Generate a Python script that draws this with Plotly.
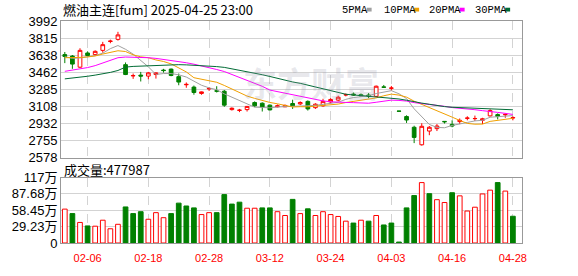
import plotly.graph_objects as go

# ---------------- data ----------------
title_text = "燃油主连[fum] 2025-04-25 23:00"
vol_title = "成交量"

dates = ["01-24", "01-27", "02-05", "02-06", "02-07", "02-10", "02-11", "02-12", "02-13", "02-14",
         "02-17", "02-18", "02-19", "02-20", "02-21", "02-24", "02-25", "02-26", "02-27", "02-28",
         "03-03", "03-04", "03-05", "03-06", "03-07", "03-10", "03-11", "03-12", "03-13", "03-14",
         "03-17", "03-18", "03-19", "03-20", "03-21", "03-24", "03-25", "03-26", "03-27", "03-28",
         "03-31", "04-01", "04-02", "04-03", "04-07", "04-08", "04-09", "04-10", "04-11", "04-14",
         "04-15", "04-16", "04-17", "04-18", "04-21", "04-22", "04-23", "04-24", "04-25", "04-28"]

x_tick_labels = ["02-06", "02-18", "02-28", "03-12", "03-24", "04-03", "04-16", "04-28"]

open_ = [3644, 3629, 3514, 3661, 3644, 3688, 3780, 3802, 3540, 3424,
         3432, 3422, 3438, 3484, 3494, 3416, 3332, 3308, 3242, 3289,
         3270, 3265, 3075, 3067, 3075, 3148, 3141, 3121, 3104, 3104,
         3138, 3134, 3160, 3095, 3114, 3154, 3173, 3227, 3236, 3229,
         3226, 3212, 3310, 3296, 3060, 3003, 2892, 2711, 2853, 2878,
         2953, 2922, 2951, 2985, 2981, 2964, 3010, 3023, 3021, 2988]
high = [3671, 3640, 3710, 3678, 3688, 3776, 3799, 3880, 3563, 3448,
        3465, 3465, 3460, 3497, 3500, 3448, 3356, 3324, 3262, 3308,
        3317, 3278, 3098, 3082, 3111, 3160, 3150, 3128, 3128, 3128,
        3177, 3160, 3170, 3141, 3187, 3193, 3219, 3242, 3252, 3242,
        3246, 3324, 3330, 3320, 3060, 3016, 2908, 2934, 2905, 2925,
        2957, 2964, 2983, 3006, 3013, 2990, 3079, 3036, 3036, 3006]
low = [3556, 3497, 3505, 3625, 3629, 3664, 3762, 3789, 3432, 3393,
       3366, 3389, 3396, 3458, 3420, 3327, 3301, 3229, 3229, 3268,
       3252, 3104, 3065, 3049, 3055, 3101, 3055, 3065, 3098, 3101,
       3082, 3121, 3065, 3082, 3104, 3138, 3160, 3212, 3219, 3206,
       3193, 3206, 3301, 3271, 3058, 2937, 2728, 2702, 2810, 2853,
       2931, 2892, 2925, 2964, 2957, 2925, 3003, 2974, 2990, 2964]
close = [3625, 3546, 3688, 3635, 3678, 3747, 3784, 3848, 3438, 3427,
         3422, 3455, 3455, 3479, 3428, 3360, 3336, 3252, 3258, 3293,
         3266, 3121, 3089, 3069, 3108, 3114, 3104, 3072, 3114, 3118,
         3114, 3148, 3082, 3131, 3160, 3180, 3203, 3229, 3226, 3216,
         3216, 3317, 3306, 3298, 3058, 2967, 2787, 2902, 2892, 2905,
         2949, 2905, 2964, 2987, 2983, 2980, 3065, 3003, 3025, 2992]

ma_names = ["5PMA", "10PMA", "20PMA", "30PMA"]
ma5 = [3622, 3605, 3610, 3625, 3634, 3659, 3706, 3738, 3699, 3649,
       3584, 3518, 3439, 3448, 3448, 3435, 3412, 3371, 3327, 3300,
       3281, 3238, 3205, 3168, 3131, 3100, 3097, 3093, 3102, 3104,
       3104, 3113, 3115, 3119, 3127, 3140, 3151, 3181, 3200, 3211,
       3218, 3241, 3256, 3271, 3239, 3189, 3083, 3002, 2921, 2891,
       2887, 2911, 2923, 2942, 2958, 2964, 2996, 3004, 3011, 3013]
ma10 = [3612, 3610, 3615, 3620, 3630, 3650, 3668, 3684, 3676, 3642,
        3621, 3612, 3589, 3573, 3548, 3510, 3465, 3405, 3387, 3374,
        3358, 3325, 3288, 3247, 3215, 3191, 3167, 3149, 3135, 3118,
        3102, 3105, 3104, 3111, 3116, 3122, 3132, 3148, 3159, 3169,
        3179, 3196, 3218, 3235, 3225, 3204, 3162, 3129, 3096, 3065,
        3038, 2997, 2963, 2932, 2924, 2925, 2953, 2963, 2977, 2985]
ma20 = [3471, 3482, 3495, 3510, 3530, 3560, 3590, 3612, 3619, 3619,
        3617, 3612, 3605, 3595, 3582, 3570, 3560, 3545, 3528, 3508,
        3490, 3469, 3439, 3410, 3382, 3350, 3316, 3277, 3261, 3246,
        3230, 3215, 3196, 3179, 3165, 3156, 3150, 3149, 3147, 3143,
        3141, 3151, 3161, 3173, 3170, 3163, 3147, 3139, 3127, 3117,
        3109, 3096, 3091, 3083, 3074, 3064, 3058, 3046, 3036, 3025]
ma30 = [3393, 3400, 3408, 3420, 3432, 3445, 3460, 3480, 3515, 3522,
        3526, 3530, 3533, 3536, 3540, 3540, 3538, 3535, 3530, 3526,
        3520, 3512, 3498, 3482, 3467, 3450, 3436, 3418, 3398, 3378,
        3361, 3347, 3327, 3310, 3293, 3274, 3255, 3234, 3227, 3220,
        3213, 3209, 3204, 3198, 3185, 3172, 3154, 3142, 3130, 3117,
        3106, 3099, 3095, 3092, 3088, 3084, 3082, 3080, 3077, 3073]

volume = [605000, 525000, 367000, 305000, 300000, 407000, 254000, 334000, 644000, 525000,
          559000, 424000, 542000, 452000, 525000, 712000, 661000, 627000, 508000, 542000,
          542000, 864000, 695000, 729000, 621000, 621000, 627000, 627000, 559000, 491000,
          779000, 525000, 610000, 491000, 559000, 508000, 474000, 390000, 356000, 407000,
          390000, 491000, 322000, 356000, 17000, 627000, 847000, 1079000, 881000, 774000,
          723000, 898000, 842000, 571000, 639000, 876000, 944000, 1079000, 927000, 477987]
# 1 = up day (vs previous settlement), 0 = down day
vol_up = [1, 0, 1, 0, 1, 1, 1, 1, 0, 0,
          0, 1, 1, 1, 0, 0, 0, 0, 1, 1,
          0, 0, 0, 0, 1, 1, 0, 0, 1, 1,
          0, 1, 0, 1, 1, 1, 1, 1, 0, 1,
          0, 1, 0, 0, 0, 0, 0, 1, 0, 1,
          1, 0, 1, 1, 1, 1, 1, 0, 1, 0]

price_ticks = [3992, 3815, 3638, 3462, 3285, 3108, 2932, 2755, 2578]
vol_tick_vals = [1169000, 876800, 584500, 292300, 0]
vol_tick_text = ["117万", "87.68万", "58.45万", "29.23万", "0"]

# ---------------- styling ----------------
W, H = 578, 276
L, R, T, B = 56, 522, 21, 255
RED = "#ff0000"
GREEN = "#008000"
ma_colors = ["#a0a0a0", "#f0a000", "#ff00ff", "#006b35"]
FRAME = "#999999"
GRID = "#d3d3d3"


def px(xp):
    return (xp - L) / (R - L)


def py(yp):
    return (B - yp) / (B - T)


fig = go.Figure()

for name, vals, col in zip(ma_names, [ma5, ma10, ma20, ma30], ma_colors):
    fig.add_trace(go.Scatter(x=dates, y=vals, mode="lines", name=name,
                             line=dict(color=col, width=1), xaxis="x", yaxis="y",
                             showlegend=False, hoverinfo="skip"))

fig.add_trace(go.Candlestick(
    x=dates, open=open_, high=high, low=low, close=close,
    increasing=dict(line=dict(color=RED, width=1), fillcolor="white"),
    decreasing=dict(line=dict(color=GREEN, width=1), fillcolor=GREEN),
    whiskerwidth=0, xaxis="x", yaxis="y", showlegend=False))

vol_fill = ["white" if u else GREEN for u in vol_up]
vol_line = [RED if u else GREEN for u in vol_up]
fig.add_trace(go.Bar(x=dates, y=volume, xaxis="x2", yaxis="y2", width=0.62,
                     marker=dict(color=vol_fill, line=dict(color=vol_line, width=1)),
                     showlegend=False))

tick_font = dict(family="Liberation Sans, Noto Sans CJK SC", size=13, color="#000000")
xrange = [-0.5, 60.2]

fig.update_layout(
    width=W, height=H, autosize=False,
    margin=dict(l=L, r=W - R, t=T, b=H - B, pad=0),
    paper_bgcolor="white", plot_bgcolor="white",
    boxgap=0.3,
    xaxis=dict(domain=[0, 1], anchor="y", type="category", range=xrange,
               tickmode="array", tickvals=x_tick_labels, showticklabels=False,
               showgrid=True, gridcolor=GRID, griddash="dash", gridwidth=1,
               showline=True, mirror=True, linecolor=FRAME, linewidth=1,
               zeroline=False, ticks="", rangeslider=dict(visible=False),
               fixedrange=True),
    yaxis=dict(domain=[py(165), 1], anchor="x", range=[2578, 3992],
               tickmode="array", tickvals=price_ticks, ticktext=[str(v) for v in price_ticks],
               showgrid=True, gridcolor=GRID, gridwidth=1,
               showline=True, mirror=True, linecolor=FRAME, linewidth=1,
               zeroline=False, ticks="", tickfont=tick_font),
    xaxis2=dict(domain=[0, 1], anchor="y2", type="category", range=xrange,
                matches="x", tickmode="array", tickvals=x_tick_labels,
                ticktext=x_tick_labels, showticklabels=True, ticklabelstandoff=5,
                tickfont=dict(family="Liberation Sans", size=11, color=RED),
                showgrid=True, gridcolor=GRID, griddash="dash", gridwidth=1,
                showline=True, mirror=True, linecolor=FRAME, linewidth=1,
                zeroline=False, ticks=""),
    yaxis2=dict(domain=[0, py(186)], anchor="x2", range=[0, 1169000],
                tickmode="array", tickvals=vol_tick_vals, ticktext=vol_tick_text,
                showgrid=True, gridcolor=GRID, gridwidth=1,
                showline=True, mirror=True, linecolor=FRAME, linewidth=1,
                zeroline=False, ticks="", tickfont=tick_font),
)

annotations = []
shapes = []
# watermark
annotations.append(dict(text="<b>东方财富</b>", x=px(309), y=py(86), xref="paper", yref="paper",
                        showarrow=False, xanchor="center", yanchor="middle",
                        font=dict(family="Noto Sans CJK SC", size=34, color="rgba(150,150,170,0.22)")))
# title
annotations.append(dict(text=title_text, x=px(56), y=py(9), xref="paper", yref="paper",
                        showarrow=False, xanchor="left", yanchor="middle",
                        font=dict(family="Noto Sans CJK SC", size=13, color="#000000")))
# volume label
annotations.append(dict(text=f"{vol_title}:{volume[-1]}", x=px(57), y=py(177), xref="paper",
                        yref="paper", showarrow=False, xanchor="left", yanchor="middle",
                        font=dict(family="Noto Sans CJK SC", size=13, color="#000000")))
# MA legend
text_x = [338, 380, 426, 472]
sq_x = [365, 413, 459, 505]
for name, col, tx, sx in zip(ma_names, ma_colors, text_x, sq_x):
    annotations.append(dict(text=name, x=px(tx), y=py(9), xref="paper", yref="paper",
                            showarrow=False, xanchor="left", yanchor="middle",
                            font=dict(family="Liberation Mono", size=10.5, color="#000000")))
    shapes.append(dict(type="rect", xref="paper", yref="paper",
                       x0=px(sx), x1=px(sx + 5), y0=py(11), y1=py(7),
                       fillcolor=col, line=dict(width=0)))

fig.update_layout(annotations=annotations, shapes=shapes)

fig.write_html("out.html")
